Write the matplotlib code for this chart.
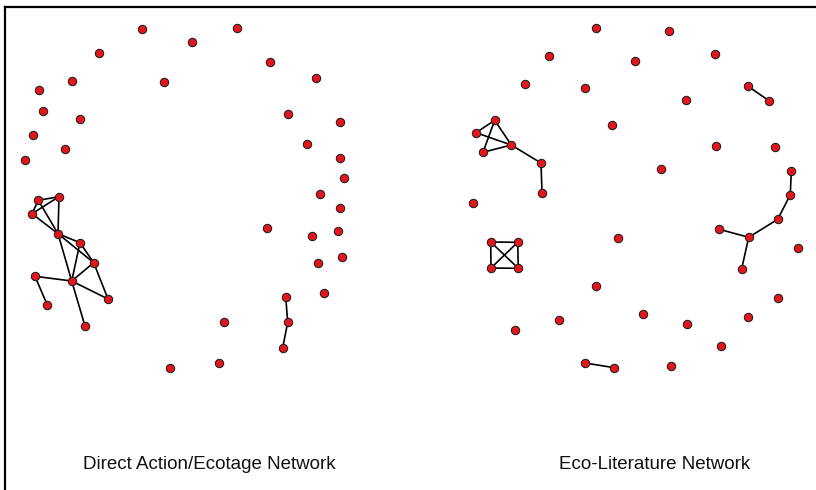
import matplotlib
matplotlib.use("Agg")
import matplotlib.pyplot as plt

# node positions (pixel space of the original figure)
direct_x = [141.7, 237, 191.7, 99, 270, 316.3, 71.7, 163.7, 39.3, 42.7,
            80.3, 287.7, 339.7, 32.7, 64.7, 307.3, 25, 339.7, 344, 319.7,
            38.3, 59, 32, 58, 80, 93.7, 35, 71.7, 47.3, 108,
            85, 339.7, 266.7, 312, 338.3, 317.7, 342.3, 323.7, 285.7, 287.7,
            282.7, 224, 218.7, 169.7]
direct_y = [29, 28.3, 42.3, 52.7, 62.3, 78, 81.3, 82, 90.3, 110.7,
            118.7, 114.3, 121.7, 135.3, 148.7, 144.3, 160, 158.3, 178, 193.7,
            200.3, 196.7, 213.7, 233.7, 242.7, 262.7, 276.3, 281, 305, 299,
            326, 208.3, 227.7, 235.7, 231.3, 263, 257.3, 293, 296.7, 322.3,
            347.7, 322, 363, 367.7]
direct_edges = [(20, 21), (20, 22), (21, 22), (20, 23), (21, 23), (22, 23),
                (23, 24), (23, 25), (24, 25), (23, 27), (24, 27), (25, 27),
                (25, 29), (27, 29), (26, 27), (26, 28), (27, 30),
                (38, 39), (39, 40)]

lit_x = [595.7, 669.3, 549.3, 635, 714.7, 525.3, 585, 686, 747.7, 769.3,
         612.3, 494.7, 476, 511.3, 483, 541, 542, 715.7, 775, 660.7,
         791.3, 790.3, 473, 777.7, 719.3, 748.7, 741.7, 798, 490.7, 517.7,
         491, 518.3, 618, 596, 777.7, 747.7, 559, 514.7, 643.3, 687,
         721.3, 585, 614.3, 671]
lit_y = [28.3, 30.7, 56, 60.7, 53.7, 83.7, 87.7, 99.7, 86, 101,
         124.7, 120.3, 132.7, 145, 152.3, 163, 192.7, 146, 147, 168.7,
         171.3, 194.7, 203.3, 219.3, 229.3, 237.3, 268.7, 248.3, 242, 242.3,
         268, 268.3, 238, 286.3, 297.7, 317.3, 319.7, 330, 313.7, 324.3,
         345.7, 363, 367.7, 365.7]
lit_edges = [(8, 9), (11, 12), (11, 13), (11, 14), (12, 13), (14, 13),
             (13, 15), (15, 16), (20, 21), (21, 23), (23, 25), (24, 25),
             (25, 26), (28, 29), (28, 30), (28, 31), (29, 30), (29, 31),
             (30, 31), (41, 42)]

titles = ["Direct Action/Ecotage Network", "Eco-Literature Network"]
title_x = [209, 655]

W, H = 816, 490
fig = plt.figure(figsize=(W / 100, H / 100), dpi=100)
ax = fig.add_axes([5 / W, 0, 1 - 5 / W, 1 - 7 / H])
ax.set_xlim(5, W)
ax.set_ylim(H, 7)

for xs, ys, edges in [(direct_x, direct_y, direct_edges), (lit_x, lit_y, lit_edges)]:
    for a, b in edges:
        ax.plot([xs[a], xs[b]], [ys[a], ys[b]], color="black", lw=1.2, zorder=1)
    ax.plot(xs, ys, "o", ms=6, mfc="#e8141c", mec="#222222", mew=0.8, zorder=2)

for t, x in zip(titles, title_x):
    ax.text(x, 464, t, ha="center", va="center", fontsize=13.5,
            family="Liberation Sans", color="#111111")

ax.set_xticks([])
ax.set_yticks([])
for side in ["right", "bottom"]:
    ax.spines[side].set_visible(False)
for side in ["left", "top"]:
    ax.spines[side].set_linewidth(1.6)

fig.savefig("out.png", dpi=100)
